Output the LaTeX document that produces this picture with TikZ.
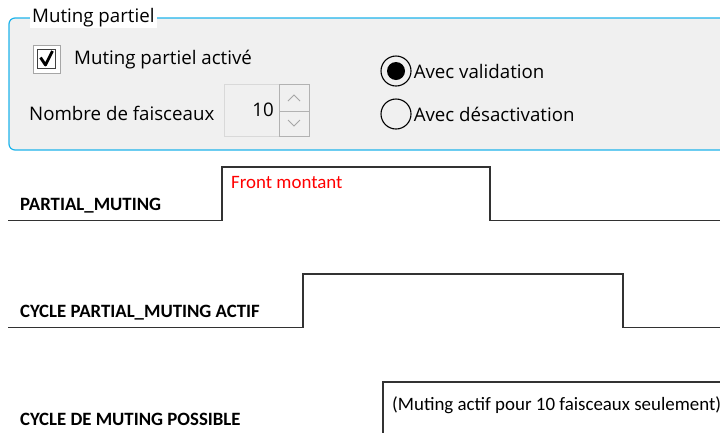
\documentclass[tikz,border=0pt]{standalone}
\usepackage{fontspec}
\setmainfont{Carlito}
\newfontfamily\guifont{Open Sans}
\usetikzlibrary{positioning}
\definecolor{boxblue}{RGB}{30,180,235}
\definecolor{panel}{RGB}{240,240,240}
\definecolor{wire}{RGB}{50,50,50}

\begin{document}
\begin{tikzpicture}[x=1pt, y=-1pt, gui/.style={font=\guifont\fontsize{18.7}{22}\selectfont, inner sep=0pt, anchor=west}, sig/.style={draw=wire, line width=1.4pt}, lbl/.style={font=\bfseries\fontsize{18.8}{22}\selectfont, inner sep=0pt, anchor=base west}, note/.style={font=\fontsize{18.9}{22}\selectfont, inner sep=0pt, anchor=base west}, radio/.style={draw, circle, line width=1.1pt, minimum size=30pt, inner sep=0pt}]
\clip (0,0) rectangle (720,432);
% settings panel
\draw[boxblue, fill=panel, line width=1.2pt, rounded corners=6pt] (9,150) rectangle (740,18);
\node[gui, fill=white, inner xsep=2pt, inner ysep=1pt] (title) at (30,18) {Muting partiel};
\draw[gray!70, fill=white, line width=1pt] (33,45) rectangle (60,73);
\draw[black!75, line width=1pt] (37.5,49.5) rectangle (55.5,68.5);
\draw[line width=2.8pt, line join=round] (40.5,57.5) -- (45.5,65) -- (52.5,51);
\node[gui] (chk) at (74,60) {Muting partiel activé};
\node[gui] (nb) at (29,113) {Nombre de faisceaux};
\draw[gray!30, fill=panel] (224,84) rectangle (279,136);
\node[gui, anchor=east] (val) at (274,110) {10};
\draw[gray!60] (279,84) rectangle (309,111) (279,111) rectangle (309,136);
\draw[gray!70, line width=0.9pt] (288,101) -- (294,95) -- (300,101) (288,120) -- (294,126) -- (300,120);
\node[radio] (r1) at (396,71) {};
\fill (r1) circle (9);
\node[radio] (r2) at (396,114) {};
\node[gui, right=2pt of r1] (valid) {Avec validation};
\node[gui, right=2pt of r2] (desac) {Avec désactivation};
% chronogrammes
\node[lbl] (pm) at (20,210.5) {PARTIAL\_MUTING};
\node[note, text=red] (front) at (231,188) {Front montant};
\draw[sig] (8,220.5) -- (222,220.5) -- (222,167) -- (490,167) -- (490,220.5) -- (720,220.5);
\node[lbl] (cyc) at (20,317) {CYCLE PARTIAL\_MUTING ACTIF};
\draw[sig] (8,327.5) -- (303,327.5) -- (303,274) -- (623,274) -- (623,327.5) -- (720,327.5);
\node[lbl] (poss) at (20,425) {CYCLE DE MUTING POSSIBLE};
\node[note] (seul) at (392,410) {(Muting actif pour 10 faisceaux seulement)};
\draw[sig] (383,440) -- (383,382) -- (720,382);
\end{tikzpicture}
\end{document}
